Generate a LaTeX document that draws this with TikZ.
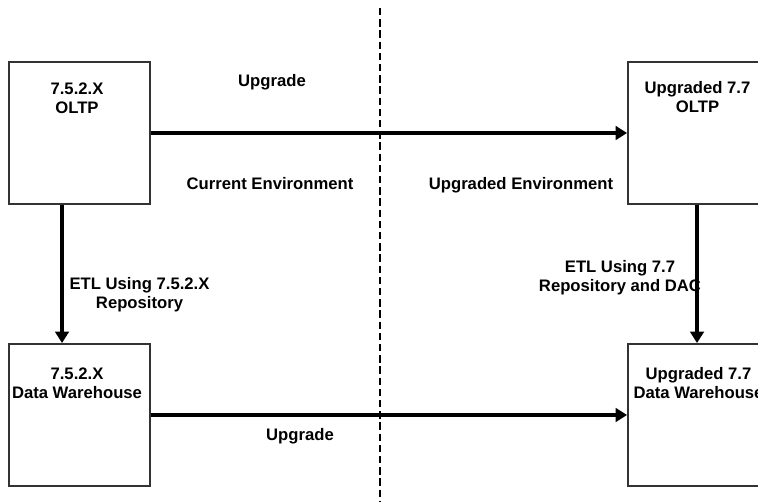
\documentclass[tikz,border=0pt]{standalone}
\usepackage{fontspec}
\setmainfont{Liberation Sans}
\usetikzlibrary{arrows.meta}
\tikzset{
  box/.style={draw=black!80, line width=1.4pt, rectangle, inner sep=0pt,
              minimum width=105.75pt, minimum height=106.5pt},
  lbl/.style={align=center, inner sep=0pt, font=\bfseries\fontsize{12.5}{14.3}\selectfont},
  flow/.style={line width=2.5pt, -{Triangle[length=8.6pt, width=10.2pt]}},
  divider/.style={line width=2.2pt, dash pattern=on 5.6pt off 2.8pt}
}
\begin{document}
\begin{tikzpicture}[x=0.75pt, y=-0.75pt]
  \useasboundingbox (0,0) rectangle (758,502);
  \clip (0,0) rectangle (758,502);

  % systems: current (left) and upgraded (right)
  \node[box] (oltpA) at (79.5,133) {};
  \node[box] (dwA)   at (79.5,415) {};
  \node[box] (oltpB) at (698.5,133) {};
  \node[box] (dwB)   at (698.5,415) {};

  \node[lbl] (oltpAtxt) at (77,98)    {7.5.2.X\\OLTP};
  \node[lbl] (dwAtxt)   at (77,383.5) {7.5.2.X\\Data Warehouse};
  \node[lbl] (oltpBtxt) at (697.5,97) {Upgraded 7.7\\OLTP};
  \node[lbl] (dwBtxt)   at (698.5,383.5) {Upgraded 7.7\\Data Warehouse};

  % environment divider
  \coordinate (divtop) at (380,8);
  \coordinate (divbot) at (380,502);
  \draw[divider] (divtop) -- (divbot);

  % upgrade paths
  \draw[flow] (oltpA) -- (oltpB);
  \draw[flow] (dwA) -- (dwB);

  % ETL loads
  \draw[flow] ([xshift=-13.1pt]oltpA.south) -- ([xshift=-13.1pt]dwA.north);
  \draw[flow] ([xshift=-1.1pt]oltpB.south) -- ([xshift=-1.1pt]dwB.north);

  % annotations
  \node[lbl] (upTop)  at (272,82)  {Upgrade};
  \node[lbl] (upBot)  at (300,436) {Upgrade};
  \node[lbl] (envCur) at (270,184) {Current Environment};
  \node[lbl] (envUpg) at (521,185) {Upgraded Environment};
  \node[lbl] (etlA)   at (139.5,294.5) {ETL Using 7.5.2.X\\Repository};
  \node[lbl] (etlB)   at (620,277.5)   {ETL Using 7.7\\Repository and DAC};
\end{tikzpicture}
\end{document}
